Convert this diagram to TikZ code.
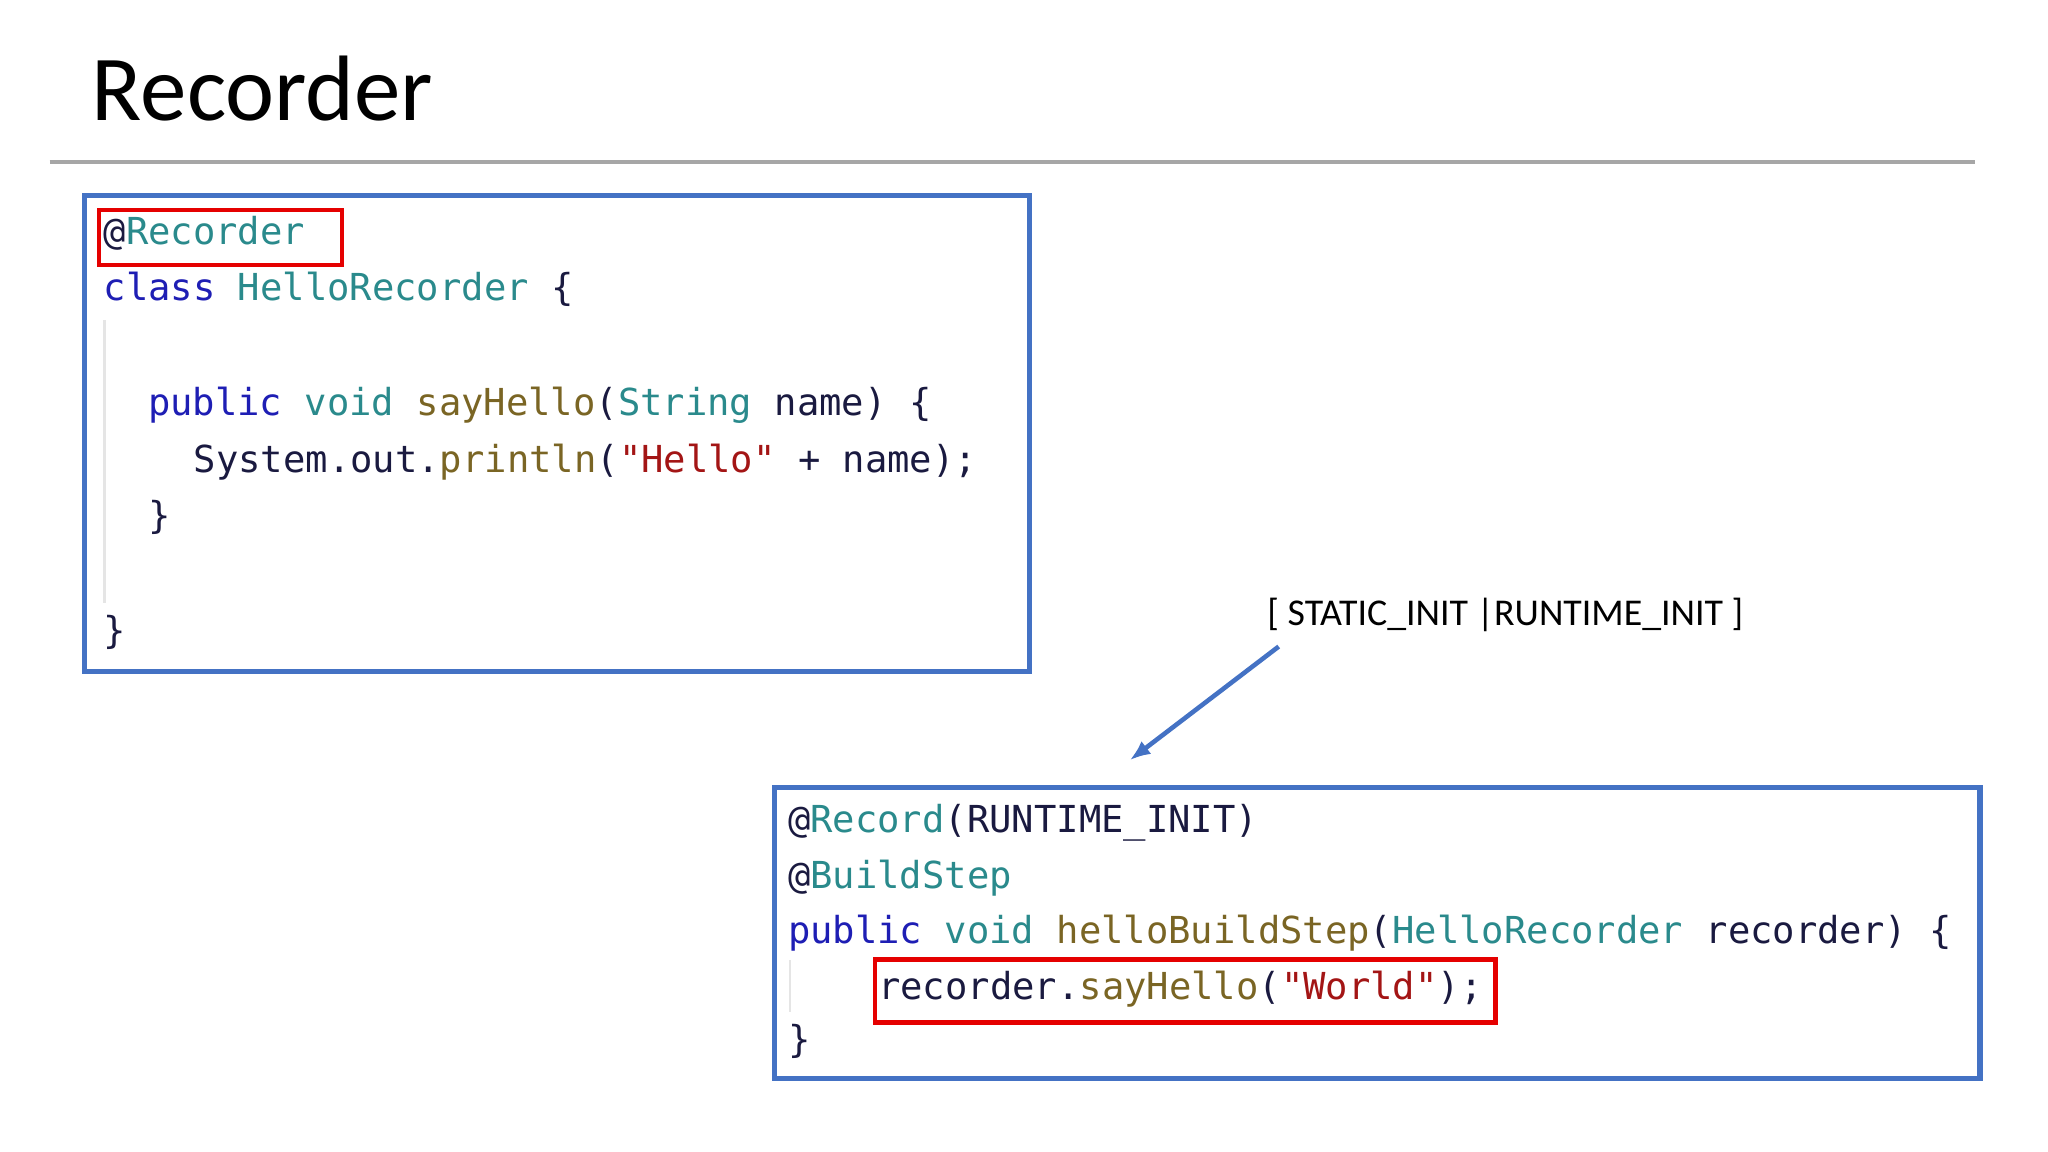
\documentclass[tikz,border=0pt]{standalone}
\usetikzlibrary{arrows.meta}
\usepackage{fontspec}
\setmainfont{Carlito}
\setmonofont{DejaVu Sans Mono}
\definecolor{bluebox}{HTML}{4472C4}
\definecolor{kw}{HTML}{1E1EB4}
\definecolor{ty}{HTML}{2A8A8C}
\definecolor{me}{HTML}{7A6524}
\definecolor{st}{HTML}{A31515}
\definecolor{id}{HTML}{1A1A40}
\newcommand{\K}[1]{\textcolor{kw}{#1}}
\newcommand{\T}[1]{\textcolor{ty}{#1}}
\newcommand{\M}[1]{\textcolor{me}{#1}}
\newcommand{\Sx}[1]{\textcolor{st}{#1}}
\newcommand{\I}[1]{\textcolor{id}{#1}}
\begin{document}
\begin{tikzpicture}[x=0.02cm,y=-0.02cm,
  code/.style={anchor=base west,inner sep=0pt,font=\ttfamily\fontsize{16.2}{18}\selectfont},
  box/.style={draw=bluebox,line width=2.2pt},
  redbox/.style={draw=red!90!black,line width=2pt}]
\useasboundingbox (0,0) rectangle (1568,882);
\node[anchor=base west,inner sep=0pt,font=\fontsize{40.5}{46}\selectfont] (title) at (70,92) {Recorder};
\draw[gray!70,line width=2pt] (38,124) -- (1512,124);
\node[box,minimum width=723*0.02cm,minimum height=364*0.02cm,anchor=north west] (b1) at (63,148) {};
\draw[gray!20,line width=1pt] (80,245) -- (80,462);
\node[code] (c1) at (79,187) {\I{@}\T{Recorder}};
\node[code] (c2) at (79,230) {\K{class} \T{HelloRecorder} \I{\{}};
\node[code] (c3) at (113,318) {\K{public} \T{void} \M{sayHello}\I{(}\T{String} \I{name) \{}};
\node[code] (c4) at (148,362) {\I{System.out.}\M{println}\I{(}\Sx{"Hello"} \I{+ name);}};
\node[code] (c5) at (113,405) {\I{\}}};
\node[code] (c6) at (79,493) {\I{\}}};
\node[redbox,minimum width=186*0.02cm,minimum height=42*0.02cm,anchor=north west] (r1) at (74,159) {};
\node[box,minimum width=923*0.02cm,minimum height=223*0.02cm,anchor=north west] (b2) at (591,601) {};
\draw[gray!20,line width=1pt] (605,735) -- (605,775);
\node[code] (d1) at (603,637) {\I{@}\T{Record}\I{(RUNTIME\_INIT)}};
\node[code] (d2) at (603,680) {\I{@}\T{BuildStep}};
\node[code] (d3) at (603,722) {\K{public} \T{void} \M{helloBuildStep}\I{(}\T{HelloRecorder} \I{recorder) \{}};
\node[code] (d4) at (672,765) {\I{recorder.}\M{sayHello}\I{(}\Sx{"World"}\I{);}};
\node[code] (d5) at (603,806) {\I{\}}};
\node[redbox,minimum width=475*0.02cm,minimum height=48*0.02cm,anchor=north west] (r2) at (668,733) {};
\node[anchor=west,inner sep=0pt,font=\fontsize{16.5}{19}\selectfont] (lab) at (970,471) {[ STATIC\_INIT |RUNTIME\_INIT ]};
\coordinate (tail) at (979,495);
\coordinate (tip) at (865,582);
\draw[bluebox,line width=2pt,-{Latex[length=9pt,width=7pt]}] (tail) -- (tip);
\end{tikzpicture}
\end{document}
